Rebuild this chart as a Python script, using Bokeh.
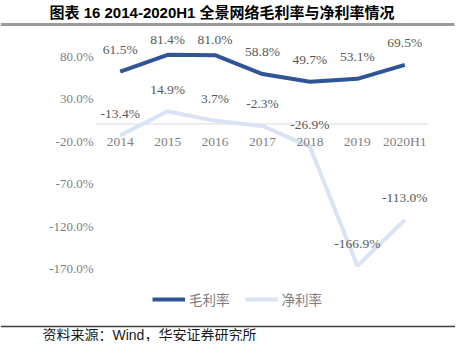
from bokeh.plotting import figure
from bokeh.models import Range1d, FixedTicker, LinearAxis, Legend, LegendItem, PrintfTickFormatter
from bokeh.core.properties import value
from bokeh.embed import file_html
from bokeh.resources import INLINE

categories = ["2014", "2015", "2016", "2017", "2018", "2019", "2020H1"]
gross_margin = [61.5, 81.4, 81.0, 58.8, 49.7, 53.1, 69.5]
net_margin = [-13.4, 14.9, 3.7, -2.3, -26.9, -166.9, -113.0]
y_ticks = [-170, -120, -70, -20, 30, 80]
series_names = ["毛利率", "净利率"]
title_text = "图表 16 2014-2020H1 全景网络毛利率与净利率情况"
source_text = "资料来源：Wind，华安证券研究所"

W, H = 455, 341
X0_PX = 119.7   # canvas x of first category
DX_PX = 47.43   # px per category
Y0_PX = 123.5   # canvas y of value 0
DY_PX = 0.85    # px per percent

x_start = -X0_PX / DX_PX
x_end = (W - X0_PX) / DX_PX
y_end = Y0_PX / DY_PX
y_start = -(H - Y0_PX) / DY_PX


def px_x(px):
    return x_start + px / DX_PX


def px_y(py):
    return y_end - py / DY_PX


SERIF = "Liberation Serif"
CJK = "Noto Sans CJK SC"
MIXED = "'Liberation Sans', 'Noto Sans CJK SC'"

p = figure(width=W, height=H, x_range=Range1d(x_start, x_end), y_range=Range1d(y_start, y_end),
           min_border=0, toolbar_location=None, output_backend="svg",
           x_axis_type=None, y_axis_type=None)
p.outline_line_color = None
p.background_fill_color = "white"

xs = list(range(len(categories)))

# y axis
yaxis = LinearAxis(fixed_location=-0.5, ticker=FixedTicker(ticks=y_ticks),
                   formatter=PrintfTickFormatter(format="%.1f%%"))
yaxis.axis_line_color = None
yaxis.major_tick_line_color = None
yaxis.minor_tick_line_color = None
yaxis.major_tick_out = 0
yaxis.major_tick_in = 0
yaxis.minor_tick_out = 0
yaxis.major_label_standoff = 3
yaxis.major_label_text_font = SERIF
yaxis.major_label_text_font_size = "13px"
yaxis.major_label_text_color = "#7f7f7f"
p.add_layout(yaxis, "left")

# x axis at zero
xaxis = LinearAxis(fixed_location=0, ticker=FixedTicker(ticks=xs),
                   major_label_overrides={i: c for i, c in zip(xs, categories)})
xaxis.axis_line_color = None
xaxis.major_tick_line_color = None
xaxis.minor_tick_line_color = None
xaxis.major_tick_out = 0
xaxis.major_tick_in = 0
xaxis.minor_tick_out = 0
xaxis.major_label_standoff = 10
xaxis.major_label_text_font = SERIF
xaxis.major_label_text_font_size = "13.5px"
xaxis.major_label_text_color = "#7f7f7f"
p.add_layout(xaxis, "below")

# zero line across the plot area
p.segment(x0=-0.5, y0=0, x1=len(categories) - 0.5, y1=0, line_color="#d9d9d9", line_width=1)

r_gross = p.line(xs, gross_margin, line_color="#2f5597", line_width=4)
r_net = p.line(xs, net_margin, line_color="#dae3f3", line_width=4)

p.text(x=xs, y=[min(v + 26, 99.5) for v in gross_margin], text=[f"{v:.1f}%" for v in gross_margin],
       text_align="center", text_baseline="middle", text_font=value(SERIF),
       text_font_size="13.5px", text_color="#595959")
p.text(x=xs, y=[v + 26 for v in net_margin], text=[f"{v:.1f}%" for v in net_margin],
       text_align="center", text_baseline="middle", text_font=value(SERIF),
       text_font_size="13.5px", text_color="#595959")

# title and rules
p.text(x=[px_x(49)], y=[px_y(11.5)], text=[title_text], text_align="left", text_baseline="middle",
       text_font=value(MIXED), text_font_style="bold", text_font_size="15px", text_color="#000000")
p.segment(x0=px_x(0), y0=px_y(24), x1=px_x(454), y1=px_y(24), line_color="#9a9a9a", line_width=3)
p.segment(x0=px_x(0), y0=px_y(326), x1=px_x(W), y1=px_y(326), line_color="#404040", line_width=1.5)
p.text(x=[px_x(42)], y=[px_y(334)], text=[source_text], text_align="left", text_baseline="middle",
       text_font=value(MIXED), text_font_size="14px", text_color="#1a1a1a")

legend = Legend(items=[LegendItem(label=series_names[0], renderers=[r_gross]),
                       LegendItem(label=series_names[1], renderers=[r_net])],
                orientation="horizontal", location=(152, 32), glyph_width=33, glyph_height=20,
                label_height=20, label_standoff=4, spacing=15, padding=0, margin=0,
                border_line_color=None, background_fill_alpha=0,
                label_text_font=CJK, label_text_font_size="13.5px", label_text_color="#7f7f7f")
p.add_layout(legend)

open("out.html", "w").write(file_html(p, INLINE))
